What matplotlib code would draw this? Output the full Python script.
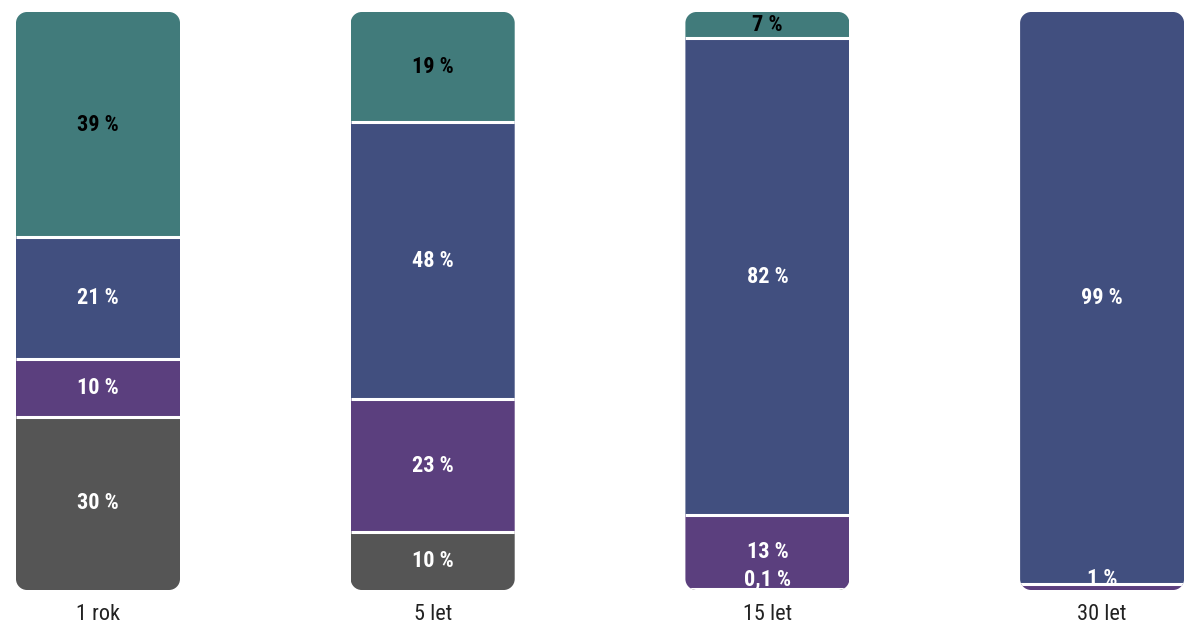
import matplotlib
matplotlib.use("Agg")
import matplotlib.pyplot as plt
from matplotlib.patches import PathPatch
from matplotlib.path import Path
from matplotlib import font_manager

categories = ["1 rok", "5 let", "15 let", "30 let"]
# stacked bottom -> top
gray_vals = [30, 10, 0.1, 0]
purple_vals = [10, 23, 12.8, 1]
navy_vals = [21, 48, 82.6, 99]
teal_vals = [39, 19, 4.5, 0]

gray_labels = ["30 %", "10 %", "0,1 %", ""]
purple_labels = ["10 %", "23 %", "13 %", "1 %"]
navy_labels = ["21 %", "48 %", "82 %", "99 %"]
teal_labels = ["39 %", "19 %", "7 %", ""]

series = [
    (gray_vals, gray_labels, "#555555", "white"),
    (purple_vals, purple_labels, "#5b3f7e", "white"),
    (navy_vals, navy_labels, "#414f7f", "white"),
    (teal_vals, teal_labels, "#417b7b", "black"),
]

avail = {f.name for f in font_manager.fontManager.ttflist}
fam = []
for f in ["Roboto Condensed", "Liberation Sans Narrow", "Open Sans Condensed", "Roboto", "DejaVu Sans"]:
    if f in avail:
        fam.append(f)
plt.rcParams["font.family"] = fam

fig = plt.figure(figsize=(12, 6.31), dpi=100)
ax = fig.add_axes([0, 41 / 631, 1, 578 / 631])
step = 334.7
ax.set_xlim(-98 / step, (1200 - 98) / step)
ax.set_ylim(0, 100)
ax.axis("off")

width = 164 / step
px_y = 578 / 100.0
rx = 11 / step
ry = 11 / px_y
K = 0.5523


def rounded_rect(x0, y0, w, h, rx, ry):
    x1, y1 = x0 + w, y0 + h
    verts = [
        (x0 + rx, y0), (x1 - rx, y0),
        (x1 - rx + K * rx, y0), (x1, y0 + ry - K * ry), (x1, y0 + ry),
        (x1, y1 - ry),
        (x1, y1 - ry + K * ry), (x1 - rx + K * rx, y1), (x1 - rx, y1),
        (x0 + rx, y1),
        (x0 + rx - K * rx, y1), (x0, y1 - ry + K * ry), (x0, y1 - ry),
        (x0, y0 + ry),
        (x0, y0 + ry - K * ry), (x0 + rx - K * rx, y0), (x0 + rx, y0),
        (x0 + rx, y0),
    ]
    codes = [Path.MOVETO, Path.LINETO,
             Path.CURVE4, Path.CURVE4, Path.CURVE4,
             Path.LINETO,
             Path.CURVE4, Path.CURVE4, Path.CURVE4,
             Path.LINETO,
             Path.CURVE4, Path.CURVE4, Path.CURVE4,
             Path.LINETO,
             Path.CURVE4, Path.CURVE4, Path.CURVE4,
             Path.CLOSEPOLY]
    return Path(verts, codes)


for i, cat in enumerate(categories):
    clip = PathPatch(rounded_rect(i - width / 2, 0, width, 100, rx, ry),
                     transform=ax.transData, facecolor="none", edgecolor="none")
    ax.add_patch(clip)
    bottom = 0
    for vals, labels, color, tcolor in series:
        v = vals[i]
        if v > 0:
            bars = ax.bar(i, v, width=width, bottom=bottom, color=color,
                          edgecolor="none", linewidth=0)
            for b in bars:
                b.set_clip_path(clip)
            if bottom > 0:
                ln, = ax.plot([i - width / 2, i + width / 2], [bottom, bottom],
                              color="white", linewidth=2.2, solid_capstyle="butt")
                ln.set_clip_path(clip)
        if labels[i]:
            y = max(bottom + v / 2, 1.9)
            ax.text(i, y, labels[i], ha="center", va="center", color=tcolor,
                    fontsize=16, fontweight="bold")
        bottom += v
    ax.text(i, -4.3, cat, ha="center", va="center", fontsize=16, color="#222222")

fig.savefig("out.png", dpi=100)
